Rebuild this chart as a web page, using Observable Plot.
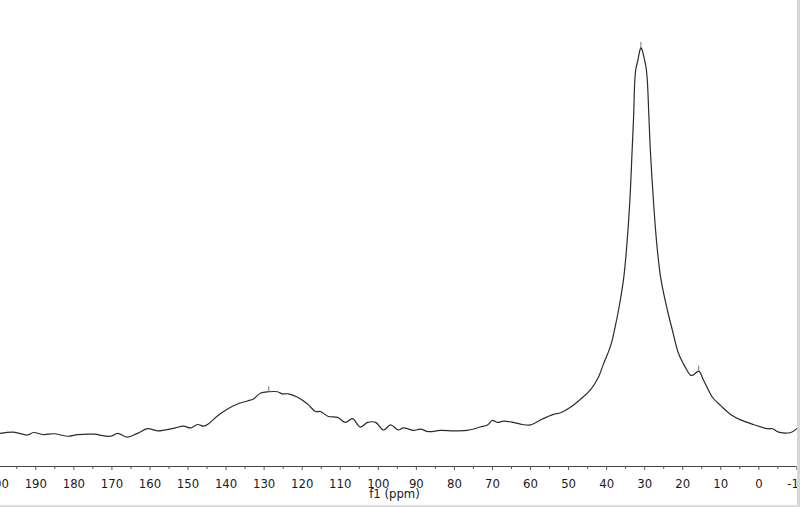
<!DOCTYPE html>
<html>
<head>
<meta charset="utf-8">
<script src="https://cdn.jsdelivr.net/npm/d3@7"></script>
<script src="https://cdn.jsdelivr.net/npm/@observablehq/plot@0.6"></script>
<style>
  html, body { margin: 0; padding: 0; background: #fff; }
  #wrap { position: relative; width: 800px; height: 507px; overflow: hidden; }
  #edgeR { position: absolute; left: 797px; top: 0; width: 3px; height: 507px; background: #d6d6d6; }
  #edgeB { position: absolute; left: 0; top: 505px; width: 800px; height: 2px; background: #dcdcdc; }
</style>
</head>
<body>
<div id="wrap"><div id="chart"></div><div id="edgeR"></div><div id="edgeB"></div></div>
<script>
// Chemical shift (ppm) and intensity (arbitrary units)
const ppm = [199.3, 195.9, 192.2, 190.6, 188.0, 185.3, 181.4, 179.0, 174.8, 170.4,
  168.5, 165.9, 163.3, 160.6, 158.0, 153.8, 151.2, 149.3, 147.5, 145.9,
  144.6, 142.2, 139.6, 137.0, 134.4, 132.8, 130.9, 128.8, 126.5, 125.2,
  123.6, 121.2, 118.6, 116.5, 115.2, 113.1, 110.7, 108.6, 106.8, 104.7,
  102.8, 100.7, 98.6, 96.8, 94.7, 93.4, 90.7, 88.9, 86.8, 83.7,
  80.2, 76.6, 73.2, 71.3, 70.0, 68.7, 67.1, 64.5, 62.1, 60.0,
  56.9, 54.0, 52.1, 49.5, 46.9, 44.2, 42.1, 40.8, 39.7, 38.7,
  37.8, 36.9, 35.5, 34.6, 33.9, 33.3, 32.9, 32.6, 32.3, 31.8,
  31.3, 31.0, 30.6, 30.0, 29.6, 29.3, 28.9, 28.5, 27.7, 26.9,
  25.8, 24.0, 22.7, 21.1, 19.3, 17.9, 17.1,
  15.8, 14.5, 12.2, 10.0, 7.4, 4.8, 1.4, -2.3, -3.6, -5.2,
  -8.4, -10.2, -11.0];
const intensity = [7.9, 8.2, 7.5, 8.1, 7.6, 7.8, 7.2, 7.6, 7.7, 7.2,
  7.9, 7.0, 7.9, 9.0, 8.5, 9.1, 9.6, 9.2, 10.0, 9.6,
  10.2, 12.1, 13.7, 14.9, 15.6, 16.1, 17.5, 17.8, 17.8, 17.3,
  17.3, 16.5, 14.9, 13.1, 13.1, 11.9, 11.7, 10.5, 11.4, 9.4,
  10.5, 10.5, 8.7, 9.9, 8.7, 9.2, 8.6, 8.9, 8.3, 8.6,
  8.5, 8.6, 9.4, 9.9, 11.0, 10.5, 10.8, 10.5, 10.0, 9.9,
  11.3, 12.4, 12.8, 14.1, 16.0, 18.3, 21.4, 24.5, 26.9, 29.5,
  33.1, 37.1, 45.0, 53.8, 63.3, 75.2, 83.6, 91.9, 94.8, 96.7,
  99.0, 99.8, 99.0, 96.7, 94.8, 91.9, 83.6, 75.2, 63.3, 53.8,
  45.0, 37.1, 32.4, 26.9, 23.6, 21.7, 21.9,
  22.7, 20.5, 16.5, 14.5, 12.4, 11.1, 10.0, 9.0, 9.0, 8.2,
  8.1, 9.2, 9.8];

// Picked peaks
const peakPpm = [128.8, 31.0, 15.8];
const peakIntensity = [17.8, 99.8, 22.7];

// Axis ticks
const majorTicks = [200, 190, 180, 170, 160, 150, 140, 130, 120, 110, 100, 90, 80, 70, 60, 50, 40, 30, 20, 10, 0, -10];
const minorTicks = [195, 185, 175, 165, 155, 145, 135, 125, 115, 105, 95, 85, 75, 65, 55, 45, 35, 25, 15, 5, -5];
const xLabel = "f1 (ppm)";

const spectrum = ppm.map((p, i) => ({ppm: p, intensity: intensity[i]}));
const peaks = peakPpm.map((p, i) => ({ppm: p, intensity: peakIntensity[i]}));

const font = "'DejaVu Sans Condensed', 'DejaVu Sans', sans-serif";

const chart = Plot.plot({
  width: 800,
  height: 507,
  marginLeft: 0,
  marginRight: 4,
  marginTop: 0,
  marginBottom: 41,
  style: {fontFamily: font, fontSize: "13px", background: "#fff", color: "#222"},
  x: {domain: [200, -10], range: [-2.75, 796.4]},
  y: {domain: [0, 111], range: [466, 0], axis: null},
  marks: [
    Plot.ruleY([0], {stroke: "#444", strokeWidth: 1}),
    Plot.axisX({ticks: minorTicks, tickSize: 3, tickFormat: () => "", stroke: "#555", label: null}),
    Plot.axisX({ticks: majorTicks, tickSize: 4, tickPadding: 8, tickFormat: d => String(d), stroke: "#555", fill: "#1a1a1a", fontSize: 13, label: null}),
    Plot.text([xLabel], {frameAnchor: "bottom", lineAnchor: "bottom", dy: 31, dx: -4, fontSize: 13, fill: "#1a1a1a"}),
    Plot.line(spectrum, {x: "ppm", y: "intensity", stroke: "#2b2b2b", strokeWidth: 1.2, curve: "catmull-rom"}),
    Plot.ruleX(peaks, {x: "ppm", y1: "intensity", y2: d => d.intensity + 1.2, stroke: "#777", strokeWidth: 1})
  ]
});
document.getElementById("chart").appendChild(chart);
</script>
</body>
</html>
